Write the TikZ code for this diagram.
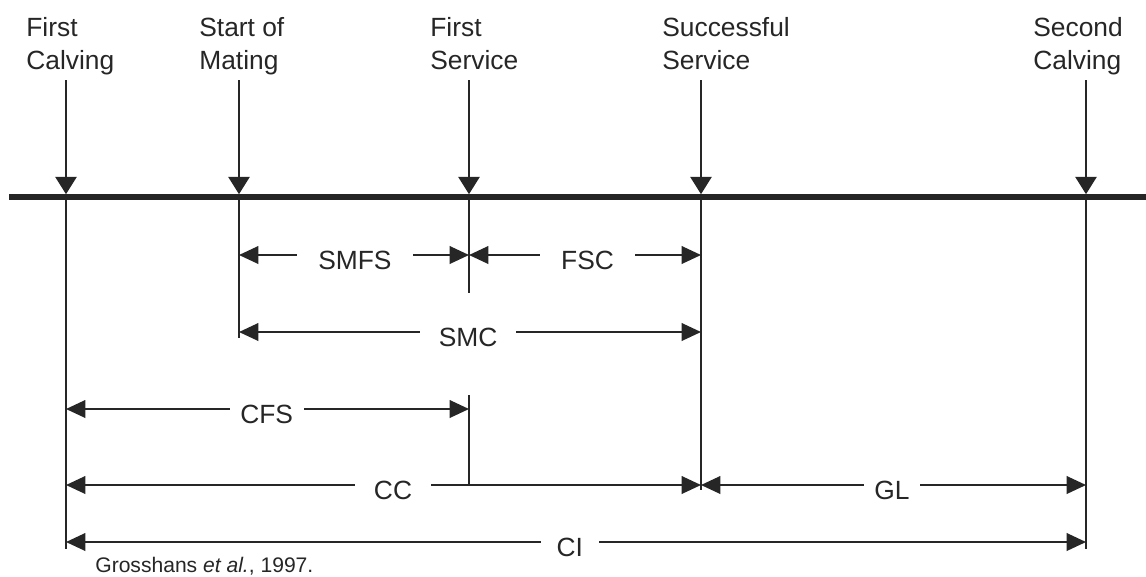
\documentclass[tikz,border=0pt]{standalone}
\usepackage{fontspec}
\setmainfont{Liberation Sans}
\usepackage{tikz}
\usetikzlibrary{calc,arrows.meta}
\definecolor{ink}{RGB}{38,38,38}

\begin{document}
\begin{tikzpicture}[x=0.02cm,y=-0.02cm]
            \tikzstyle{event}=[font=\fontsize{15}{18.7}\selectfont,text=ink,align=left,anchor=north west,inner sep=0pt]
            \tikzstyle{span}=[font=\fontsize{15}{17}\selectfont,text=ink,fill=white,inner ysep=2pt,yshift=-2.9pt]
            \tikzstyle{pointer}=[draw=ink,line width=1.1pt,shorten >=1.6pt,-{Triangle[length=9.8pt,width=12pt]}]
            \tikzstyle{drop}=[draw=ink,line width=1.1pt]
            \tikzstyle{dim}=[draw=ink,line width=1.1pt,{Triangle[length=11pt,width=10pt]}-{Triangle[length=11pt,width=10pt]}]
            \useasboundingbox (0,0) rectangle (1146,576);
            % events above the time axis
            \node[event] (fcl) at (26,17) {First\\Calving};
            \node[event] (sml) at (199,17) {Start of\\Mating};
            \node[event] (fsl) at (430,17) {First\\Service};
            \node[event] (ssl) at (662,17) {Successful\\Service};
            \node[event] (scl) at (1033,17) {Second\\Calving};
            \coordinate (fct) at (66,80);
            \coordinate (smt) at (239,80);
            \coordinate (fst) at (469,80);
            \coordinate (sst) at (701,80);
            \coordinate (sct) at (1086,80);
            % time axis
            \coordinate (start) at (9,197);
            \coordinate (end) at (1146,197);
            \coordinate (fc) at (66,197);
            \coordinate (sm) at (239,197);
            \coordinate (fs) at (469,197);
            \coordinate (ss) at (701,197);
            \coordinate (sc) at (1086,197);
            \draw[draw=ink,line width=3.4pt] (start) -- (end);
            \draw[pointer] (fct) -- (fc);
            \draw[pointer] (smt) -- (sm);
            \draw[pointer] (fst) -- (fs);
            \draw[pointer] (sst) -- (ss);
            \draw[pointer] (sct) -- (sc);
            % drop lines
            \coordinate (fcb) at (66,549);
            \coordinate (smb) at (239,338);
            \coordinate (fsb) at (469,293);
            \coordinate (fsu) at (469,395);
            \coordinate (fsd) at (469,485);
            \coordinate (ssb) at (701,490);
            \coordinate (scb) at (1086,549);
            \draw[drop] (fc) -- (fcb);
            \draw[drop] (sm) -- (smb);
            \draw[drop] (fs) -- (fsb);
            \draw[drop] (fsu) -- (fsd);
            \draw[drop] (ss) -- (ssb);
            \draw[drop] (sc) -- (scb);
            % intervals
            \coordinate (smfs1) at (239,255);
            \coordinate (smfs2) at (469,255);
            \coordinate (fsc2) at (701,255);
            \coordinate (smc1) at (239,332);
            \coordinate (smc2) at (701,332);
            \coordinate (cfs1) at (66,409);
            \coordinate (cfs2) at (469,409);
            \coordinate (cc1) at (66,485);
            \coordinate (cc2) at (701,485);
            \coordinate (gl2) at (1086,485);
            \coordinate (ci1) at (66,542);
            \coordinate (ci2) at (1086,542);
            \draw[dim] (smfs1) -- node[span,pos=0.504,inner xsep=12pt] (smfs) {SMFS} (smfs2);
            \draw[dim] (smfs2) -- node[span,pos=0.511,inner xsep=12pt] (fsc) {FSC} (fsc2);
            \draw[dim] (smc1) -- node[span,pos=0.496,inner xsep=10.5pt] (smc) {SMC} (smc2);
            \draw[dim] (cfs1) -- node[span,pos=0.498,inner xsep=6pt] (cfs) {CFS} (cfs2);
            \draw[dim] (cc1) -- node[span,pos=0.515,inner xsep=11pt] (cc) {CC} (cc2);
            \draw[dim] (cc2) -- node[span,pos=0.496,inner xsep=6pt] (gl) {GL} (gl2);
            \draw[dim] (ci1) -- node[span,pos=0.494,inner xsep=9pt] (ci) {CI} (ci2);
            \node[anchor=base west,font=\fontsize{12}{14}\selectfont,text=ink,inner sep=0pt] (src) at (95,572) {Grosshans \textit{et al.}, 1997.};
        \end{tikzpicture}
\end{document}
